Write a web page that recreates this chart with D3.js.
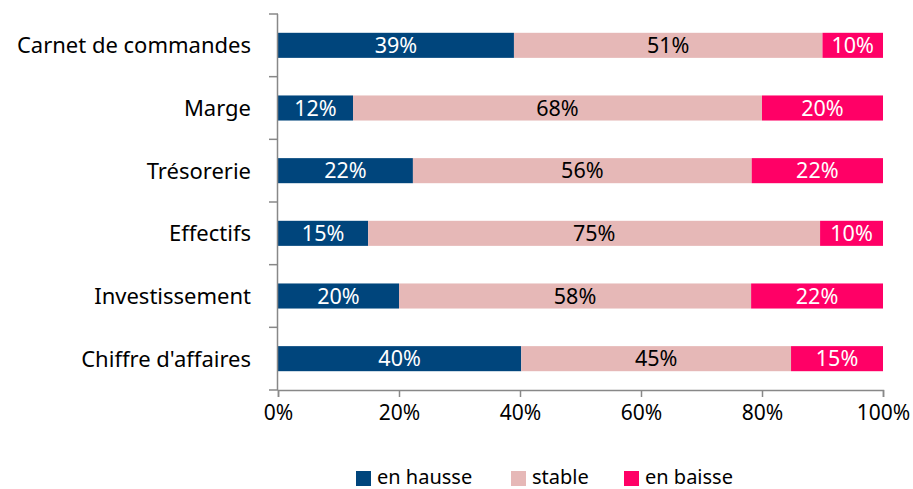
<!DOCTYPE html>
<html>
<head>
<meta charset="utf-8">
<script src="https://cdn.jsdelivr.net/npm/d3@7"></script>
<style>
  body { margin: 0; background: #fff; }
  svg text { font-family: "Noto Sans", "Open Sans", sans-serif; }
</style>
</head>
<body>
<svg id="chart" width="913" height="489"></svg>
<script>
// Categories, top to bottom
const categories = ['Carnet de commandes', 'Marge', 'Trésorerie', 'Effectifs', 'Investissement', "Chiffre d'affaires"];

// Shares (percent)
const enHausse = [39, 12.4, 22.3, 14.9, 20, 40.2];
const stable = [51, 67.6, 56, 74.7, 58.2, 44.6];
const enBaisse = [10, 20, 21.7, 10.4, 21.8, 15.2];

const seriesNames = ['en hausse', 'stable', 'en baisse'];
const seriesColors = ['#00457c', '#e6b8b7', '#ff0066'];
const labelColors = ['#fff', '#000', '#fff'];
const xTicks = [0, 20, 40, 60, 80, 100];

const rows = categories.map((c, i) => ({
  cat: c,
  'en hausse': enHausse[i],
  'stable': stable[i],
  'en baisse': enBaisse[i]
}));

const svg = d3.select('#chart');
const margin = {left: 278, right: 30, top: 14, bottom: 99};
const W = 913, H = 489;

const x = d3.scaleLinear().domain([0, 100]).range([margin.left, W - margin.right]);
const y = d3.scaleBand().domain(categories).range([margin.top, H - margin.bottom]).paddingInner(0.6).paddingOuter(0.3);

const stack = d3.stack().keys(seriesNames);
const layers = stack(rows);

// bars
const g = svg.append('g');
layers.forEach((layer, k) => {
  g.selectAll('rect.s' + k)
    .data(layer)
    .enter()
    .append('rect')
    .attr('x', d => x(d[0]))
    .attr('y', d => y(d.data.cat))
    .attr('width', d => x(d[1]) - x(d[0]))
    .attr('height', y.bandwidth())
    .attr('fill', seriesColors[k]);

  g.selectAll('text.s' + k)
    .data(layer)
    .enter()
    .append('text')
    .attr('x', d => (x(d[0]) + x(d[1])) / 2)
    .attr('y', d => y(d.data.cat) + y.bandwidth() / 2)
    .attr('dy', '0.36em')
    .attr('text-anchor', 'middle')
    .attr('fill', labelColors[k])
    .style('font-size', '21.5px')
    .text(d => Math.round(d[1] - d[0]) + '%');
});

// y axis: line + ticks between categories
const yAxisG = svg.append('g');
yAxisG.append('line')
  .attr('x1', x(0) - 0.5).attr('x2', x(0) - 0.5)
  .attr('y1', margin.top).attr('y2', H - margin.bottom)
  .attr('stroke', '#888').attr('stroke-width', 1.5);
d3.range(categories.length + 1).forEach(i => {
  const yy = margin.top + i * (H - margin.bottom - margin.top) / categories.length;
  yAxisG.append('line')
    .attr('x1', x(0) - 9).attr('x2', x(0))
    .attr('y1', yy).attr('y2', yy)
    .attr('stroke', '#888').attr('stroke-width', 1.5);
});
yAxisG.selectAll('text.cat')
  .data(categories)
  .enter()
  .append('text')
  .attr('x', 251)
  .attr('y', d => y(d) + y.bandwidth() / 2)
  .attr('dy', '0.36em')
  .attr('text-anchor', 'end')
  .attr('fill', '#000')
  .style('font-size', '22px')
  .text(d => d);

// x axis
const xAxis = d3.axisBottom(x).tickValues(xTicks).tickSize(7).tickFormat(d => d + '%');
const xg = svg.append('g')
  .attr('transform', 'translate(0,' + (H - margin.bottom) + ')')
  .call(xAxis);
xg.select('.domain').attr('stroke', '#888').attr('stroke-width', 1.5);
xg.selectAll('.tick line').attr('stroke', '#888').attr('stroke-width', 1.5);
xg.selectAll('.tick text')
  .attr('fill', '#000')
  .attr('y', 22)
  .attr('dy', '0.36em')
  .style('font-size', '21px')
  .style('font-family', '"Noto Sans", "Open Sans", sans-serif');

// legend
const legendX = [356, 511, 624];
const legend = svg.append('g');
seriesNames.forEach((s, k) => {
  legend.append('rect')
    .attr('x', legendX[k]).attr('y', 471)
    .attr('width', 15).attr('height', 15)
    .attr('fill', seriesColors[k]);
  legend.append('text')
    .attr('x', legendX[k] + 21).attr('y', 477)
    .attr('dy', '0.36em')
    .attr('fill', '#000')
    .style('font-size', '20px')
    .text(s);
});
</script>
</body>
</html>
